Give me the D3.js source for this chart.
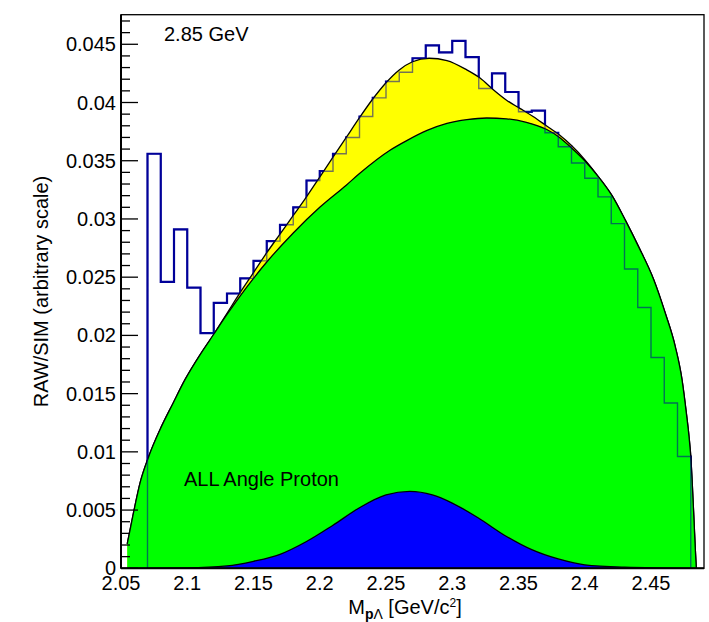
<!DOCTYPE html>
<html>
<head>
<meta charset="utf-8">
<script src="https://cdn.jsdelivr.net/npm/d3@7"></script>
<style>
body { margin: 0; background: #fff; }
text { font-family: "Liberation Sans", Arial, Helvetica, sans-serif; fill: #000; }
</style>
</head>
<body>
<script>
var width = 709, height = 622;

// histogram (RAW), 0.01 wide bins starting at 2.07
var binStart = 2.07, binWidth = 0.01;
var histValues = [0.0356, 0.0246, 0.0291, 0.0241, 0.0202, 0.0228, 0.0236, 0.0249, 0.0264, 0.0281,
                  0.0295, 0.0310, 0.0333, 0.0341, 0.0356, 0.0370, 0.0388, 0.0404, 0.0418, 0.0426,
                  0.0438, 0.0449, 0.0443, 0.0453, 0.0439, 0.0412, 0.0425, 0.0409, 0.0392, 0.0393,
                  0.0374, 0.0362, 0.0348, 0.0335, 0.0319, 0.0296, 0.0257, 0.0224, 0.0181, 0.0142,
                  0.0096];

// total simulation curve (yellow)
var totalX = [2.0547, 2.0593, 2.0643, 2.0706, 2.0794, 2.0894, 2.0983, 2.11, 2.12, 2.13, 2.14, 2.15,
              2.16, 2.17, 2.18, 2.19, 2.20, 2.21, 2.22, 2.23, 2.24, 2.25, 2.26, 2.27, 2.2825, 2.296,
              2.311, 2.321, 2.331, 2.341, 2.351, 2.361, 2.371, 2.381, 2.39, 2.40, 2.4105, 2.4206,
              2.4306, 2.4407, 2.452, 2.4608, 2.4684, 2.4734, 2.4767, 2.4787, 2.4802, 2.481, 2.4825,
              2.4835, 2.4842];
var totalY = [0.0021, 0.0047, 0.0073, 0.0095, 0.0119, 0.0142, 0.0162, 0.0184, 0.0201, 0.0219, 0.0237, 0.0254,
              0.0271, 0.0287, 0.0303, 0.0319, 0.0336, 0.0353, 0.0370, 0.0387, 0.0403, 0.0417, 0.0428, 0.0435, 0.0438, 0.0436,
              0.0428, 0.0421, 0.0411, 0.0402, 0.0395, 0.0388, 0.0380, 0.0372, 0.0363, 0.0351, 0.0336, 0.0320,
              0.0299, 0.0276, 0.0248, 0.0219, 0.0190, 0.0162, 0.0133, 0.0113, 0.0093, 0.0076, 0.0040,
              0.0015, 0.0];

// phase space curve (green)
var phaseX = [2.0547, 2.0593, 2.0643, 2.0706, 2.0794, 2.0894, 2.0983, 2.11, 2.12, 2.13, 2.14, 2.15, 2.16,
              2.18, 2.20, 2.22, 2.23, 2.253, 2.266, 2.281, 2.296, 2.311, 2.326, 2.341, 2.356, 2.371,
              2.381, 2.39, 2.40, 2.4105, 2.4206, 2.4306, 2.4407, 2.452, 2.4608, 2.4684, 2.4734, 2.4767,
              2.4787, 2.4802, 2.481, 2.4825, 2.4835, 2.4842];
var phaseY = [0.0021, 0.0047, 0.0073, 0.0095, 0.0119, 0.0142, 0.0162, 0.0184, 0.0201, 0.0218, 0.0234, 0.0249, 0.0263,
              0.0288, 0.0310, 0.0329, 0.0339, 0.0359, 0.03675, 0.0376, 0.0382, 0.03853, 0.03867, 0.0386, 0.0383, 0.0377,
              0.0370, 0.0361, 0.0350, 0.0336, 0.0320, 0.0299, 0.0276, 0.0248, 0.0219, 0.0190, 0.0162, 0.0133,
              0.0113, 0.0093, 0.0076, 0.0040, 0.0015, 0.0];

// resonance component (blue)
var resX = [2.0547, 2.10, 2.13, 2.15, 2.17, 2.19, 2.21, 2.23, 2.25, 2.268, 2.285, 2.30, 2.32, 2.34,
            2.36, 2.38, 2.40, 2.43, 2.4842];
var resY = [0.0, 0.00003, 0.0002, 0.0006, 0.0012, 0.0023, 0.0037, 0.0052, 0.0063, 0.0066, 0.0063, 0.0056, 0.0043, 0.0028,
            0.0016, 0.0008, 0.0003, 0.0001, 0.0];

var xMajor = [2.05, 2.1, 2.15, 2.2, 2.25, 2.3, 2.35, 2.4, 2.45];
var yMajor = [0, 0.005, 0.01, 0.015, 0.02, 0.025, 0.03, 0.035, 0.04, 0.045];
var yLabels = ["0", "0.005", "0.01", "0.015", "0.02", "0.025", "0.03", "0.035", "0.04", "0.045"];

var svg = d3.select("body").append("svg")
    .attr("width", width)
    .attr("height", height);

var x = d3.scaleLinear().domain([2.05, 2.49]).range([121, 704]);
var y = d3.scaleLinear().domain([0, 0.04754]).range([568.3, 14.7]);

var x0 = x.range()[0], x1 = x.range()[1];
var y0 = y.range()[0], y1 = y.range()[1];

// x minor/major ticks (under the fills)
var xMinor = d3.range(0, 44).map(function(i) { return 2.05 + i * 0.01; });
svg.append("g").selectAll("line")
    .data(xMinor)
    .enter().append("line")
    .attr("x1", function(d) { return x(d); })
    .attr("x2", function(d) { return x(d); })
    .attr("y1", y0)
    .attr("y2", function(d, i) { return i % 5 === 0 ? y0 - 16 : y0 - 8; })
    .style("stroke", "#000")
    .style("stroke-width", 1.3);

// histogram, thick outline
var histPts = [[binStart, 0]];
histValues.forEach(function(v, i) {
    histPts.push([binStart + i * binWidth, v]);
});
histPts.push([binStart + histValues.length * binWidth, histValues[histValues.length - 1]]);
histPts.push([binStart + histValues.length * binWidth, 0]);

var histLine = d3.line()
    .x(function(d) { return x(d[0]); })
    .y(function(d) { return y(d[1]); })
    .curve(d3.curveStepAfter);

svg.append("path")
    .attr("d", histLine(histPts))
    .style("fill", "none")
    .style("stroke", "#000099")
    .style("stroke-width", 2.2);

function drawCurve(xs, ys, color) {
    var pts = xs.map(function(d, i) { return [d, ys[i]]; });
    var area = d3.area()
        .x(function(d) { return x(d[0]); })
        .y0(y(0))
        .y1(function(d) { return y(d[1]); })
        .curve(d3.curveMonotoneX);
    var line = d3.line()
        .x(function(d) { return x(d[0]); })
        .y(function(d) { return y(d[1]); })
        .curve(d3.curveMonotoneX);
    svg.append("path")
        .attr("d", area(pts))
        .style("fill", color)
        .style("stroke", "none");
    svg.append("path")
        .attr("d", line(pts))
        .style("fill", "none")
        .style("stroke", "#000")
        .style("stroke-width", 1.3);
}

drawCurve(totalX, totalY, "#ffff00");
drawCurve(phaseX, phaseY, "#00ff00");

// histogram seen through the fills
svg.append("path")
    .attr("d", histLine(histPts))
    .style("fill", "none")
    .style("stroke", "#000099")
    .style("stroke-width", 1.4)
    .style("opacity", 0.55);

drawCurve(resX, resY, "#0000ff");

// y ticks
var yMinor = d3.range(0, 48).map(function(i) { return i * 0.001; });
svg.append("g").selectAll("line")
    .data(yMinor)
    .enter().append("line")
    .attr("x1", x0)
    .attr("x2", function(d, i) { return i % 5 === 0 ? x0 + 17 : x0 + 9; })
    .attr("y1", function(d) { return y(d); })
    .attr("y2", function(d) { return y(d); })
    .style("stroke", "#000")
    .style("stroke-width", 1.3);

// frame
svg.append("rect")
    .attr("x", x0)
    .attr("y", y1)
    .attr("width", x1 - x0)
    .attr("height", y0 - y1)
    .style("fill", "none")
    .style("stroke", "#000")
    .style("stroke-width", 1.3);
svg.append("line")
    .attr("x1", x0).attr("x2", x1)
    .attr("y1", y0).attr("y2", y0)
    .style("stroke", "#000")
    .style("stroke-width", 2);
svg.append("line")
    .attr("x1", x0).attr("x2", x0)
    .attr("y1", y0).attr("y2", y1)
    .style("stroke", "#000")
    .style("stroke-width", 2);

// tick labels
svg.append("g").selectAll("text")
    .data(yMajor)
    .enter().append("text")
    .attr("x", 116)
    .attr("y", function(d) { return y(d) + 7; })
    .attr("text-anchor", "end")
    .style("font-size", "20px")
    .text(function(d, i) { return yLabels[i]; });

svg.append("g").selectAll("text")
    .data(xMajor)
    .enter().append("text")
    .attr("x", function(d) { return x(d); })
    .attr("y", 590)
    .attr("text-anchor", "middle")
    .style("font-size", "20px")
    .text(function(d) { return d3.format("")(d); });

// axis titles
svg.append("text")
    .attr("transform", "translate(48," + ((y0 + y1) / 2) + ") rotate(-90)")
    .attr("text-anchor", "middle")
    .style("font-size", "20px")
    .text("RAW/SIM (arbitrary scale)");

var xt = svg.append("text")
    .attr("x", 405)
    .attr("y", 614)
    .attr("text-anchor", "middle")
    .style("font-size", "20px");
xt.append("tspan").text("M");
xt.append("tspan").attr("dy", 5).style("font-size", "14px").style("font-weight", "bold").text("p");
xt.append("tspan").style("font-size", "14px").text("\u039B");
xt.append("tspan").attr("dy", -5).text(" [GeV/c");
xt.append("tspan").attr("dy", -7).style("font-size", "12px").text("2");
xt.append("tspan").attr("dy", 7).text("]");

svg.append("text")
    .attr("x", 164)
    .attr("y", 41)
    .style("font-size", "20px")
    .text("2.85 GeV");

svg.append("text")
    .attr("x", 184)
    .attr("y", 486)
    .style("font-size", "20px")
    .text("ALL Angle Proton");
</script>
</body>
</html>
